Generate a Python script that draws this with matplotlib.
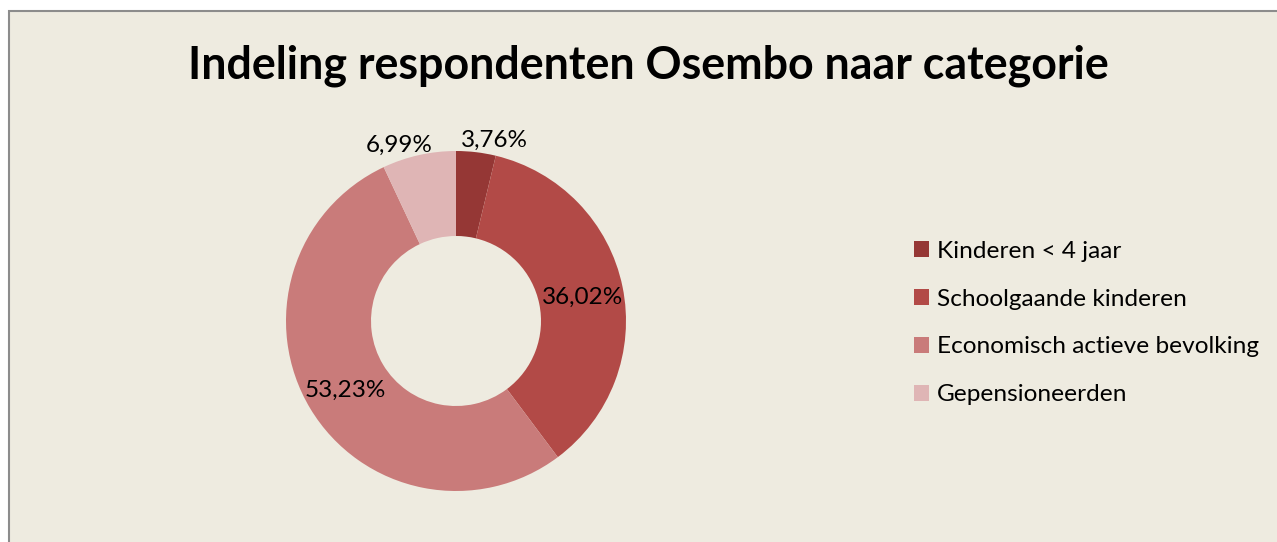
import matplotlib.pyplot as plt
from matplotlib.patches import Rectangle, Patch
import numpy as np

categories = ["Kinderen < 4 jaar", "Schoolgaande kinderen",
              "Economisch actieve bevolking", "Gepensioneerden"]
shares = [3.76, 36.02, 53.23, 6.99]
share_labels = ["3,76%", "36,02%", "53,23%", "6,99%"]
colors = ["#953735", "#B24A47", "#C97B7A", "#DFB5B5"]

W, H = 1277, 542
fig = plt.figure(figsize=(W / 100, H / 100), dpi=100, facecolor="white")
plt.rcParams['font.family'] = ['Lato', 'DejaVu Sans']

# chart area frame
fig.patches.append(Rectangle((9 / W, -0.1), 1.1, (H - 11) / H + 0.1,
                             transform=fig.transFigure, facecolor="#EEEBE0",
                             edgecolor="#8C8C8C", linewidth=1.5, zorder=-10))

fig.text(648 / W, 1 - 66 / H, "Indeling respondenten Osembo naar categorie",
         ha="center", va="center", fontsize=32.2, fontweight="bold", color="black")

cx, cy, R = 456, 321, 170
ax = fig.add_axes([(cx - R) / W, (H - cy - R) / H, 2 * R / W, 2 * R / H])
ax.set_facecolor("none")
wedges, _ = ax.pie(shares, colors=colors, startangle=90, counterclock=False,
                   radius=1, wedgeprops=dict(width=0.5, edgecolor="none"))
ax.set_xlim(-1, 1)
ax.set_ylim(-1, 1)
ax.set_aspect("equal")
ax.axis("off")

total = sum(shares)
cum = 0
for lab, s in zip(share_labels, shares):
    mid = 90 - 360 * (cum + s / 2) / total
    mid = (mid + 180) % 360 - 180
    cum += s
    if s < 10:
        # small slices: label outside, pushed away from the vertical
        mid += 5 if mid > 90 else -5
        r = 1.1
    else:
        r = 0.76
    mid = np.deg2rad(mid)
    ax.text(r * np.cos(mid), r * np.sin(mid) - 0.015, lab, ha="center", va="center",
            fontsize=17.5, color="black", clip_on=False)

handles = [Patch(facecolor=c, edgecolor="none") for c in colors]
fig.legend(handles, categories, loc="center left",
           bbox_to_anchor=(897 / W, 1 - 323 / H), frameon=False,
           fontsize=17.6, handlelength=0.62, handleheight=0.62,
           handletextpad=0.3, labelspacing=1.1, borderpad=0.2)

fig.savefig("out.png", dpi=100, facecolor=fig.get_facecolor())
